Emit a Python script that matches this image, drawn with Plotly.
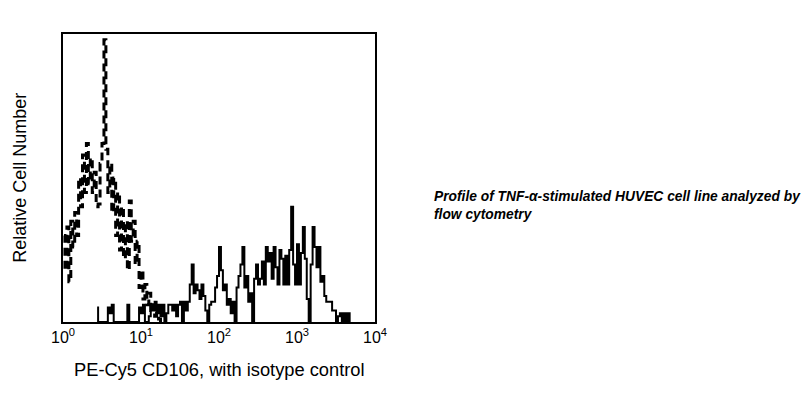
import plotly.graph_objects as go

# Channel calibration: 160 log channels spanning 10^0 .. 10^4
n_channels = 160
decades = 4.0

# Isotype control (dashed), channels 0..50
isotype_start = 0
isotype_counts = [30, 18, 33, 14, 35, 26, 38, 30, 50, 40,
                  58, 45, 62, 48, 57, 45, 52, 40, 41, 55,
                  62, 98, 60, 45, 55, 38, 50, 30, 45, 25,
                  40, 22, 35, 18, 42, 28, 35, 20, 28, 12,
                  18, 8, 13, 6, 10, 4, 6, 2, 3, 1, 0]

# PE-Cy5 CD106 (solid), channels 17..147
cd106_start = 17
cd106_counts = [5, 0, 0, 0, 0, 0, 5, 3, 6, 0,
                0, 0, 0, 0, 0, 0, 6, 0, 0, 0,
                0, 0, 5, 3, 6, 0, 0, 2, 6, 4,
                7, 3, 6, 2, 6, 0, 3, 6, 6, 4,
                6, 2, 6, 7, 0, 7, 4, 7, 13, 20,
                10, 13, 11, 8, 13, 9, 4, 0, 6, 7,
                7, 12, 16, 26, 18, 11, 13, 6, 8, 3,
                7, 0, 12, 16, 20, 26, 12, 16, 7, 10,
                0, 15, 20, 13, 15, 21, 13, 26, 21, 24,
                15, 26, 19, 13, 25, 22, 13, 23, 13, 25,
                40, 20, 13, 27, 13, 24, 33, 22, 8, 0,
                20, 33, 26, 19, 26, 14, 16, 9, 7, 7,
                7, 4, 4, 0, 2, 3, 0, 3, 0, 3, 0]

x_tick_vals = [1, 10, 100, 1000, 10000]
x_tick_text = ["10<sup>0</sup>", "10<sup>1</sup>", "10<sup>2</sup>",
               "10<sup>3</sup>", "10<sup>4</sup>"]

x_title = "PE-Cy5 CD106, with isotype control"
y_title = "Relative Cell Number"
caption_lines = ["Profile of TNF-α-stimulated HUVEC cell line analyzed by",
                 "flow cytometry"]

step = decades / n_channels


def channel_x(start, n):
    return [10 ** ((start + i + 0.5) * step) for i in range(n)]


fig = go.Figure()
fig.add_trace(go.Scatter(
    x=channel_x(cd106_start, len(cd106_counts)), y=cd106_counts,
    mode="lines", line=dict(color="black", width=2, shape="hvh"),
    showlegend=False, hoverinfo="skip"))
fig.add_trace(go.Scatter(
    x=channel_x(isotype_start, len(isotype_counts)), y=isotype_counts,
    mode="lines", line=dict(color="black", width=3, shape="hvh", dash="8px,5px"),
    showlegend=False, hoverinfo="skip"))

font_family = "Liberation Sans, Arial, sans-serif"
fig.update_layout(
    width=806, height=397,
    margin=dict(l=63, r=431, t=34, b=75),
    paper_bgcolor="white", plot_bgcolor="white",
    font=dict(family=font_family, color="black"),
    xaxis=dict(type="log", range=[0, 4], tickvals=x_tick_vals, ticktext=x_tick_text,
               showgrid=False, zeroline=False, showline=True, mirror=True,
               linecolor="black", linewidth=2, ticks="", automargin=False,
               tickfont=dict(size=16)),
    yaxis=dict(range=[0, 100], showticklabels=False, showgrid=False, zeroline=False,
               showline=True, mirror=True, linecolor="black", linewidth=2, ticks="",
               automargin=False),
    annotations=[
        dict(text=x_title, xref="paper", yref="paper", x=0.5, y=-0.165,
             xanchor="center", yanchor="middle", showarrow=False,
             font=dict(size=18.3, family=font_family)),
        dict(text=y_title, xref="paper", yref="paper", x=-0.1385, y=0.5,
             xanchor="center", yanchor="middle", showarrow=False, textangle=-90,
             font=dict(size=18, family=font_family)),
        dict(text="<br>".join("<b><i>" + s + "</i></b>" for s in caption_lines),
             xref="paper", yref="paper", x=1.1827, y=0.406,
             xanchor="left", yanchor="middle", align="left", showarrow=False,
             font=dict(size=13.8, family=font_family)),
    ],
)

fig.write_html("out.html", config={"displayModeBar": False},
               post_script="document.body.style.margin='0';document.body.style.padding='0';")
